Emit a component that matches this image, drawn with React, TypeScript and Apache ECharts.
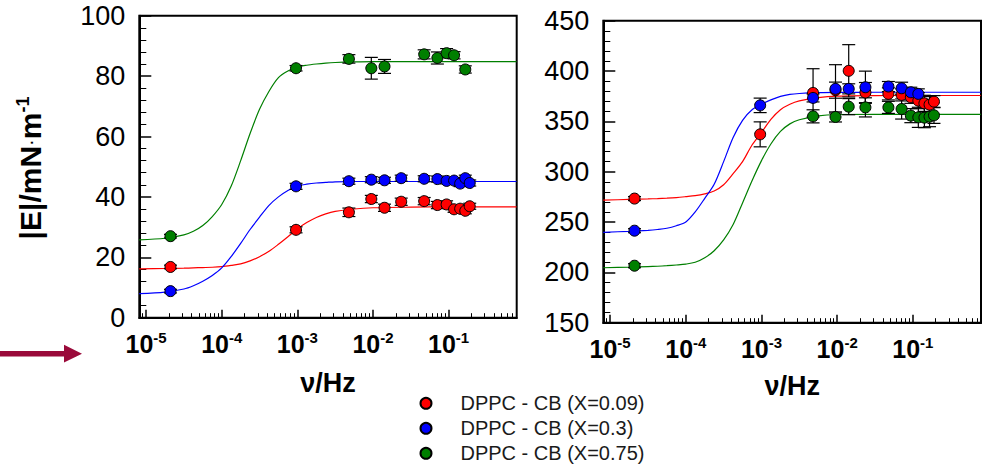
import React, { useEffect, useRef } from "react";
import * as echarts from "echarts";

const FONT = '"Liberation Sans", Arial, Helvetica, sans-serif';

// Measurement frequencies (Hz), shared by both panels
const freqHz = [2.1e-5, 9.6e-4, 4.8e-3, 9.5e-3, 1.42e-2, 2.36e-2, 4.75e-2, 7.1e-2, 9.4e-2, 0.118, 0.142, 0.166, 0.19];

const seriesNames = ["DPPC - CB (X=0.09)", "DPPC - CB (X=0.3)", "DPPC - CB (X=0.75)"];
const seriesColors = ["#ff0000", "#0000ff", "#007f00"];

// Left panel |E| (mN/m)
const leftRed = [16.8, 29.1, 34.9, 39.3, 36.4, 38.4, 38.6, 37.3, 37.5, 35.9, 36.1, 35.4, 36.9];
const leftRedErr = [0.6, 1.0, 1.4, 1.2, 1.2, 1.2, 1.2, 1.2, 1.2, 1.0, 1.0, 1.0, 1.0];
const leftBlue = [8.8, 43.5, 45.2, 45.7, 45.5, 46.2, 46.0, 45.9, 45.3, 45.4, 44.4, 46.2, 44.6];
const leftBlueErr = [0.6, 1.0, 1.0, 1.0, 1.0, 1.0, 1.0, 1.0, 1.0, 1.0, 1.0, 1.0, 1.0];
const leftGreen = [27.0, 82.6, 85.7, 82.6, 83.2, null, 87.2, 86.0, 87.6, 86.9, null, 82.2, null];
const leftGreenErr = [0.6, 0.9, 1.4, 3.6, 2.3, null, 1.5, 2.0, 1.5, 1.2, null, 1.2, null];

// Right panel |E| (mN/m)
const rightRed = [273.3, 337.1, 378.3, 381.0, 400.2, 378.6, 377.3, 376.3, 373.9, 370.6, 367.9, 366.6, 369.6];
const rightRedErr = [2, 12.4, 24, 8, 26, 10, 6, 6, 6, 8, 8, 8, 6];
const rightBlue = [241.4, 365.9, 373.3, 382.3, 382.3, 383.9, 384.6, 382.9, 378.9, 377.3, null, null, null];
const rightBlueErr = [2, 7.2, 4, 24, 5, 16, 5, 6, 5, 5, null, null, null];
const rightGreen = [206.6, null, 355.0, 354.4, 364.6, 363.9, 363.9, 362.3, 355.7, 354.0, 353.7, 354.7, 356.0];
const rightGreenErr = [2, null, 6.5, 5, 8, 9.5, 6, 10, 7, 10, 10, 10, 8];

// Fitted curves
const fitFreqHz = [8.1e-6, 1.78e-5, 3.16e-5, 4.22e-5, 5.62e-5, 7.5e-5, 1.0e-4, 1.33e-4, 1.78e-4, 2.37e-4, 3.16e-4, 4.22e-4, 5.62e-4, 7.5e-4, 1.0e-3, 1.33e-3, 1.78e-3, 2.37e-3, 3.16e-3, 5.62e-3, 1.0e-2, 3.16e-2, 0.1, 0.79];
const leftRedFit = [16.2, 16.3, 16.4, 16.5, 16.6, 16.7, 16.9, 17.3, 17.8, 18.8, 20.2, 22.0, 24.3, 26.8, 29.4, 31.5, 33.2, 34.4, 35.2, 36.0, 36.4, 36.6, 36.7, 36.7];
const leftBlueFit = [8.0, 8.5, 9.5, 10.6, 12.1, 14.0, 16.5, 20.2, 24.6, 29.2, 33.3, 37.2, 40.0, 42.1, 43.6, 44.2, 44.6, 44.8, 45.0, 45.1, 45.1, 45.1, 45.1, 45.1];
const leftGreenFit = [25.8, 26.3, 27.4, 28.6, 30.5, 33.5, 37.5, 43.5, 52.0, 61.0, 69.0, 75.0, 79.5, 81.7, 83.0, 83.6, 84.0, 84.3, 84.5, 84.7, 84.8, 84.8, 84.8, 84.8];
const rightRedFit = [271.7, 272.5, 273.0, 273.3, 273.7, 274.3, 275.2, 276.2, 278.0, 280.8, 287.0, 298.0, 310.0, 326.5, 339.0, 352.0, 361.6, 367.0, 370.3, 373.5, 375.0, 375.6, 375.7, 375.7];
const rightBlueFit = [239.8, 240.8, 241.8, 242.6, 243.8, 246.3, 250.0, 260.0, 273.5, 287.5, 310.0, 334.0, 351.0, 361.5, 367.0, 371.3, 374.8, 376.8, 377.7, 378.5, 378.8, 378.9, 378.9, 378.9];
const rightGreenFit = [204.6, 205.1, 205.7, 206.1, 206.6, 207.3, 208.2, 210.0, 214.5, 221.5, 232.2, 247.5, 269.0, 291.0, 311.0, 327.5, 340.0, 347.5, 351.6, 355.5, 356.8, 357.0, 357.0, 357.0];

// Axis settings
const xDecades = [-5, -4, -3, -2, -1];
const xLogMin = -5.09;
const xLogMax = -0.1;
const leftYTicks = { min: 0, max: 100, interval: 20 };
const rightYTicks = { min: 150, max: 450, interval: 50 };

const LOG = (f: number) => Math.log10(f);

function pointData(vals: (number | null)[]) {
  const out: number[][] = [];
  freqHz.forEach((f, i) => {
    const v = vals[i];
    if (v != null) out.push([LOG(f), v]);
  });
  return out;
}
function errData(vals: (number | null)[], errs: (number | null)[]) {
  const out: number[][] = [];
  freqHz.forEach((f, i) => {
    const v = vals[i];
    const e = errs[i];
    if (v != null && e != null) out.push([LOG(f), v, e]);
  });
  return out;
}
function fitData(vals: number[]) {
  return fitFreqHz.map((f, i) => [LOG(f), vals[i]]);
}

const minorLogs: number[] = [];
for (let n = -6; n <= -1; n++) {
  for (let k = 2; k <= 9; k++) {
    const v = LOG(k * Math.pow(10, n));
    if (v > xLogMin && v < xLogMax) minorLogs.push(v);
  }
}

const errRender = (params: any, api: any) => {
  const x = api.value(0);
  const y = api.value(1);
  const e = api.value(2);
  const top = api.coord([x, y + e]);
  const bot = api.coord([x, y - e]);
  const hw = 6.5;
  const style = { stroke: "#000", lineWidth: 1.2 };
  return {
    type: "group",
    children: [
      { type: "line", shape: { x1: top[0], y1: top[1], x2: bot[0], y2: bot[1] }, style },
      { type: "line", shape: { x1: top[0] - hw, y1: top[1], x2: top[0] + hw, y2: top[1] }, style },
      { type: "line", shape: { x1: bot[0] - hw, y1: bot[1], x2: bot[0] + hw, y2: bot[1] }, style },
    ],
  };
};

function mainX(gridIndex: number, nameGap: number) {
  return {
    type: "value",
    gridIndex,
    position: "bottom",
    min: xLogMin,
    max: xLogMax,
    name: "\u03bd/Hz",
    nameLocation: "middle",
    nameGap,
    nameTextStyle: { fontFamily: FONT, fontSize: 27, fontWeight: "bold", color: "#000" },
    axisLine: { show: true, lineStyle: { color: "#000", width: 2 } },
    axisTick: { show: true, inside: true, length: 8, customValues: xDecades, lineStyle: { color: "#000", width: 1.5 } },
    axisLabel: {
      customValues: xDecades,
      margin: 12,
      formatter: (v: number) => `{b|10}{s|${Math.round(v)}}`,
      rich: {
        b: { fontFamily: FONT, fontSize: 25, fontWeight: "bold", color: "#000", lineHeight: 28 },
        s: { fontFamily: FONT, fontSize: 15, fontWeight: "bold", color: "#000", verticalAlign: "top", lineHeight: 17 },
      },
    },
    splitLine: { show: false },
  };
}
function minorX(gridIndex: number) {
  return {
    type: "value",
    gridIndex,
    position: "bottom",
    min: xLogMin,
    max: xLogMax,
    axisLine: { show: false },
    axisLabel: { show: false },
    axisTick: { show: true, inside: true, length: 4.5, customValues: minorLogs, lineStyle: { color: "#000", width: 1 } },
    splitLine: { show: false },
  };
}
function yAx(gridIndex: number, t: { min: number; max: number; interval: number }) {
  return {
    type: "value",
    gridIndex,
    position: "left",
    min: t.min,
    max: t.max,
    interval: t.interval,
    axisLine: { show: true, lineStyle: { color: "#000", width: 2 } },
    axisTick: { show: true, inside: true, length: 12, lineStyle: { color: "#000", width: 1.5 } },
    minorTick: { show: true, splitNumber: 5, length: 7, lineStyle: { color: "#000", width: 1 } },
    splitLine: { show: false },
    axisLabel: { fontFamily: FONT, fontSize: 27, color: "#000", margin: 14 },
  };
}

function panelSeries(
  gridIdx: number,
  vals: (number | null)[][],
  errs: (number | null)[][],
  fits: number[][]
) {
  const xIdx = gridIdx * 2;
  const yIdx = gridIdx;
  const out: any[] = [];
  fits.forEach((f, i) => {
    out.push({
      type: "line",
      name: `fit-${gridIdx}-${i}`,
      xAxisIndex: xIdx,
      yAxisIndex: yIdx,
      data: fitData(f),
      smooth: 0.3,
      showSymbol: false,
      symbol: "none",
      lineStyle: { color: seriesColors[i], width: 1.2 },
      z: 1,
      silent: true,
    });
  });
  vals.forEach((v, i) => {
    out.push({
      type: "custom",
      name: `err-${gridIdx}-${i}`,
      xAxisIndex: xIdx,
      yAxisIndex: yIdx,
      data: errData(v, errs[i]),
      encode: { x: 0, y: 1 },
      renderItem: errRender,
      z: 2,
      silent: true,
    });
  });
  vals.forEach((v, i) => {
    out.push({
      type: "scatter",
      name: seriesNames[i],
      xAxisIndex: xIdx,
      yAxisIndex: yIdx,
      data: pointData(v),
      symbol: "circle",
      symbolSize: 11,
      itemStyle: { color: seriesColors[i], borderColor: "#000", borderWidth: 1, opacity: 1 },
      z: 3,
    });
  });
  return out;
}

export default function App() {
  const ref = useRef<HTMLDivElement>(null);
  useEffect(() => {
    if (!ref.current) return;
    const chart = echarts.init(ref.current, null, { renderer: "svg" });
    const option: any = {
      animation: false,
      backgroundColor: "#fff",
      grid: [
        { left: 139.3, top: 15.7, width: 377.4, height: 302, show: true, borderColor: "#000", borderWidth: 2, backgroundColor: "transparent" },
        { left: 603.3, top: 20.7, width: 377.7, height: 302, show: true, borderColor: "#000", borderWidth: 2, backgroundColor: "transparent" },
      ],
      xAxis: [mainX(0, 52), minorX(0), mainX(1, 50), minorX(1)],
      yAxis: [yAx(0, leftYTicks), yAx(1, rightYTicks)],
      legend: {
        orient: "vertical",
        left: 419.5,
        top: 393.3,
        padding: 0,
        itemWidth: 11,
        itemHeight: 11,
        itemGap: 5,
        icon: "circle",
        selectedMode: false,
        data: seriesNames,
        textStyle: { fontFamily: FONT, fontSize: 20, color: "#1a1a1a", lineHeight: 20, padding: [0, 0, 0, 24] },
      },
      graphic: [
        {
          type: "text",
          x: 30,
          y: 168,
          rotation: Math.PI / 2,
          style: {
            text: "{a|\u007cE\u007c/mN}{d|\u00b7}{a|m}{s|-1}",
            align: "center",
            verticalAlign: "middle",
            rich: {
              a: { fontFamily: FONT, fontSize: 30, fontWeight: "bold", fill: "#000", lineHeight: 32 },
              d: { fontFamily: FONT, fontSize: 20, fontWeight: "normal", fill: "#000", lineHeight: 32 },
              s: { fontFamily: FONT, fontSize: 18, fontWeight: "bold", fill: "#000", verticalAlign: "top", lineHeight: 18 },
            },
          },
        },
        {
          type: "polygon",
          shape: {
            points: [
              [0, 351],
              [64, 351],
              [64, 344.7],
              [82, 353.7],
              [64, 362.5],
              [64, 356.5],
              [0, 356.5],
            ],
          },
          style: { fill: "#9a0a3a" },
        },
      ],
      series: [
        ...panelSeries(0, [leftRed, leftBlue, leftGreen], [leftRedErr, leftBlueErr, leftGreenErr], [leftRedFit, leftBlueFit, leftGreenFit]),
        ...panelSeries(1, [rightRed, rightBlue, rightGreen], [rightRedErr, rightBlueErr, rightGreenErr], [rightRedFit, rightBlueFit, rightGreenFit]),
      ],
    };
    chart.setOption(option);
    return () => chart.dispose();
  }, []);
  return <div ref={ref} style={{ position: "fixed", left: 0, top: 0, width: 985, height: 469 }} />;
}
